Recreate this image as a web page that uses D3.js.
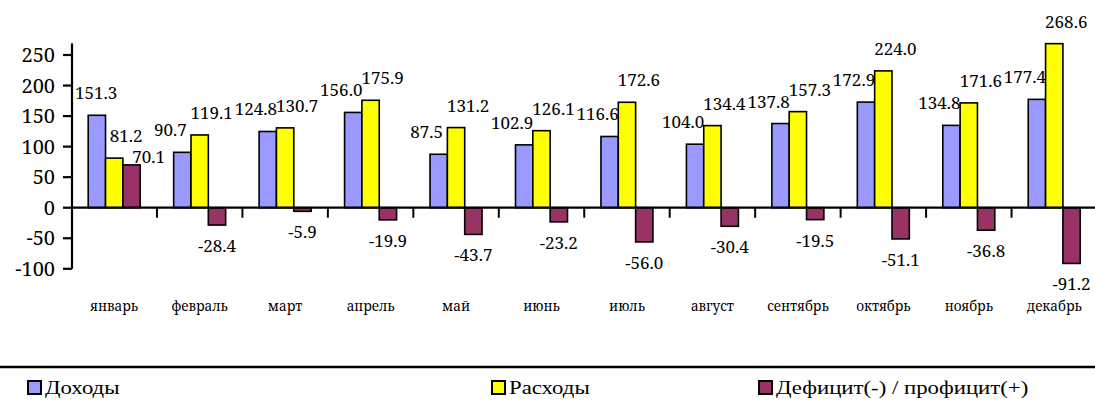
<!DOCTYPE html>
<html><head><meta charset="utf-8">
<script src="https://cdn.jsdelivr.net/npm/d3@7"></script>
<style>body{margin:0;background:#fff}svg{display:block}
.val,.tick,.cat{font-family:"Noto Serif","DejaVu Serif",serif}
.leg{font-family:"Liberation Serif","Times New Roman",serif}
</style>
</head><body>
<svg id="c" width="1095" height="408"></svg>
<script>
const months = ["январь","февраль","март","апрель","май","июнь","июль","август","сентябрь","октябрь","ноябрь","декабрь"];
const income = [151.3, 90.7, 124.8, 156.0, 87.5, 102.9, 116.6, 104.0, 137.8, 172.9, 134.8, 177.4];
const expenses = [81.2, 119.1, 130.7, 175.9, 131.2, 126.1, 172.6, 134.4, 157.3, 224.0, 171.6, 268.6];
const balance = [70.1, -28.4, -5.9, -19.9, -43.7, -23.2, -56.0, -30.4, -19.5, -51.1, -36.8, -91.2];
const seriesNames = ["Доходы", "Расходы", "Дефицит(-) / профицит(+)"];
const seriesColors = ["#9999FF", "#FFFF00", "#993366"];
const yTicks = [-100, -50, 0, 50, 100, 150, 200, 250];

const svg = d3.select("#c");
const series = [income, expenses, balance];

const y = d3.scaleLinear().domain([-100, 269]).range([268.8, 43.4]);
const x = d3.scaleBand().domain(months).range([71.5, 1097]).padding(0);
const xs = d3.scaleBand().domain([0,1,2]).range([16.7, 16.7+52]).padding(0);

function txt(g, cls, xp, yp, s, size, sx, anchor){
  return g.append("text")
    .attr("class", cls)
    .attr("transform", `translate(${xp},${yp}) scale(${sx},1)`)
    .attr("text-anchor", anchor)
    .attr("font-size", size)
    .attr("fill", "#000")
    .text(s);
}

// bars
const gBars = svg.append("g");
series.forEach((vals, si) => {
  gBars.selectAll(null).data(vals).enter().append("rect")
    .attr("x", (d,i) => x(months[i]) + xs(si))
    .attr("y", d => y(Math.max(0,d)))
    .attr("width", xs.bandwidth())
    .attr("height", d => Math.abs(y(d) - y(0)))
    .attr("fill", seriesColors[si])
    .attr("stroke", "#000")
    .attr("stroke-width", 1.6);
});

// axes
const gAx = svg.append("g");
gAx.append("line").attr("x1", 72).attr("x2", 72).attr("y1", y(269)).attr("y2", y(-100))
  .attr("stroke","#000").attr("stroke-width",2.2);
yTicks.forEach(t => {
  gAx.append("line").attr("x1", 63).attr("x2", 72).attr("y1", y(t)).attr("y2", y(t))
    .attr("stroke","#000").attr("stroke-width",2.2);
  txt(gAx, "tick", 55, y(t)+7, String(t), 20, 1, "end");
});
gAx.append("line").attr("x1", 71).attr("x2", 1095).attr("y1", y(0)).attr("y2", y(0))
  .attr("stroke","#000").attr("stroke-width",2.2);
months.forEach((m,i) => {
  if (i > 0) {
    gAx.append("line").attr("x1", x(m)).attr("x2", x(m)).attr("y1", y(0)).attr("y2", y(0)+10)
      .attr("stroke","#000").attr("stroke-width",2);
  }
  txt(gAx, "cat", x(m) + x.bandwidth()/2, 311, m, 13.5, 1, "middle");
});

// value labels: income labels a little to the left, expense labels a little to the right,
// kept inside the plot area
const gLab = svg.append("g");
const halfW = 21;
series.forEach((vals, si) => {
  vals.forEach((d,i) => {
    const dx = si === 0 ? -12 : si === 1 ? 12 : (d >= 0 ? 17 : 0);
    const dy = (si === 2 && d >= 0) ? 14 : 0;
    let cx = x(months[i]) + xs(si) + xs.bandwidth()/2 + dx;
    cx = Math.max(75 + halfW, Math.min(1094 - halfW, cx));
    const yy = d >= 0 ? y(d) - 16 + dy : y(d) + 27;
    txt(gLab, "val", cx, yy, d.toFixed(1), 17, 1, "middle");
  });
});

// legend
const gLeg = svg.append("g");
gLeg.append("line").attr("x1",0).attr("x2",1095).attr("y1",367).attr("y2",367)
  .attr("stroke","#000").attr("stroke-width",2.5);
const legX = [28, 492, 759];
seriesNames.forEach((n, si) => {
  gLeg.append("rect").attr("x", legX[si]).attr("y", 381).attr("width", 13).attr("height", 13)
    .attr("fill", seriesColors[si]).attr("stroke","#000").attr("stroke-width",2);
  txt(gLeg, "leg", legX[si] + 17, 394, n, 19, 1.2, "start");
});
</script>
</body></html>
